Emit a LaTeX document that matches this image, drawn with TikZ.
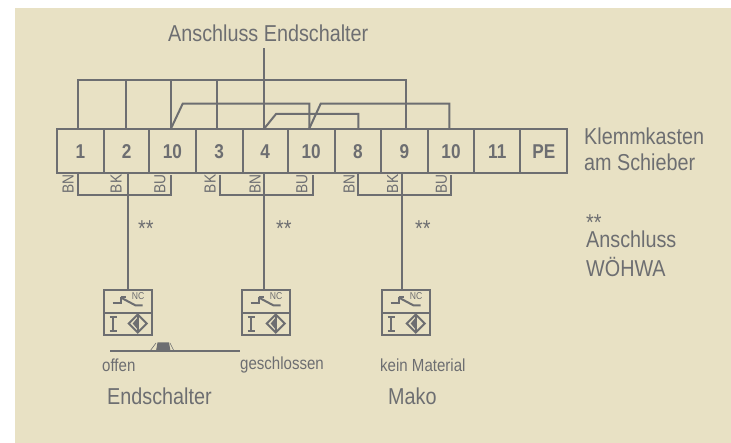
\documentclass[tikz,border=0pt]{standalone}
\usepackage{fontspec}
\setmainfont[FakeStretch=0.86]{Liberation Sans}
\definecolor{bgc}{HTML}{E8E1C4}
\definecolor{ink}{HTML}{6D6E71}
\tikzset{
  wire/.style={draw=ink,line width=2pt,line join=miter},
  term/.style={draw=ink,line width=2pt,anchor=north west,inner sep=0pt,minimum height=43.5pt,text=ink,font=\fontsize{20}{20}\selectfont\bfseries},
  lbl/.style={text=ink,inner sep=0pt,anchor=west,align=left},
  big/.style={lbl,font=\fontsize{23}{27}\selectfont},
  small/.style={lbl,font=\fontsize{17.5}{20}\selectfont},
  stars/.style={text=ink,inner sep=0pt,anchor=base west,font=\fontsize{23}{23}\selectfont},
  core/.style={text=ink,inner sep=0pt,rotate=90,font=\fontsize{16}{16}\selectfont},
  swbox/.style={draw=ink,line width=2pt,anchor=north west,minimum width=48.5pt,minimum height=22.5pt,inner sep=0pt},
  nctext/.style={text=ink,inner sep=0pt,font=\fontsize{10}{10}\selectfont},
}
\newcommand{\swsym}[2]{%
  \begin{scope}[shift={(#1,#2)}]
    \draw[ink,line width=2pt] (10,14) -- (18,14) -- (18,8);
    \draw[ink,line width=2pt] (18,8) -- (33,16) -- (40,16);
    \draw[ink,line width=2pt] (18,8) -- (23,8);
    \draw[ink,line width=2pt] (10.6,28) -- (10.6,42) (7,28) -- (14,28) (7,42) -- (14,42);
    \draw[ink,line width=2pt,line join=miter] (35,25) -- (44,34) -- (35,43) -- (26,34) -- cycle;
    \draw[ink,line width=2pt] (35,25) -- (35,43);
    \fill[ink] (35,28) -- (30,34) -- (35,40) -- cycle;
  \end{scope}}
\begin{document}
\begin{tikzpicture}[x=1pt,y=-1pt]
\useasboundingbox (0,0) rectangle (731,443);
\fill[bgc] (15,8) rectangle (731,443);

\node[big] (title) at (168,33.5) {Anschluss Endschalter};

\node[term,minimum width=47.3pt] (t1) at (55.7,128.5) {1};
\node[term,minimum width=45.3pt] (t2) at (103,128.5) {2};
\node[term,minimum width=46.4pt] (t3) at (148.3,128.5) {10};
\node[term,minimum width=47pt] (t4) at (194.7,128.5) {3};
\node[term,minimum width=45pt] (t5) at (241.7,128.5) {4};
\node[term,minimum width=47pt] (t6) at (286.7,128.5) {10};
\node[term,minimum width=46.3pt] (t7) at (333.7,128.5) {8};
\node[term,minimum width=46.7pt] (t8) at (380,128.5) {9};
\node[term,minimum width=46.6pt] (t9) at (426.7,128.5) {10};
\node[term,minimum width=46pt] (t10) at (473.3,128.5) {11};
\node[term,minimum width=47pt] (t11) at (519.3,128.5) {PE};

\coordinate (top) at (264.3,48);
\coordinate (bL) at (78.3,80);
\coordinate (bR) at (406,80);
\coordinate (x2) at (126,80);
\coordinate (x3) at (171,80);
\coordinate (x4) at (217,80);
\coordinate (x5) at (264.3,80);
\coordinate (x6) at (309.3,80);
\coordinate (x7) at (358.3,80);
\coordinate (x9) at (449.3,80);

\draw[wire] (t1.north -| bL) |- (bR) -- (t8.north -| bR);
\draw[wire] (t2.north -| x2) -- (x2);
\draw[wire] (t3.north -| x3) -- (x3);
\draw[wire] (t4.north -| x4) -- (x4);
\draw[wire] (t5.north -| x5) -- (top);
\coordinate (a1) at (182.7,103.7);
\coordinate (a2) at (320.7,103.7);
\coordinate (a3) at (276,114);
\draw[wire] (t3.north -| x3) -- (a1) -- (a1 -| x6) -- (t6.north -| x6);
\draw[wire] (t6.north -| x6) -- (a2) -- (a2 -| x9) -- (t9.north -| x9);
\draw[wire] (t5.north -| x5) -- (a3) -- (a3 -| x7) -- (t7.north -| x7);

\coordinate (s1) at (128,195.3);
\coordinate (s2) at (264.3,195.3);
\coordinate (s3) at (402.3,195.3);
\node[swbox] (w1t) at (102.7,289.5) {};
\node[swbox] (w1b) at (102.7,312) {};
\node[swbox] (w2t) at (240.7,289.5) {};
\node[swbox] (w2b) at (240.7,312) {};
\node[swbox] (w3t) at (380.7,289.5) {};
\node[swbox] (w3b) at (380.7,312) {};

\draw[wire] (77.7,172) |- (170.7,195.3) -- (170.7,175);
\draw[wire] (128,172) -- (s1) -- (128,289.5);
\draw[wire] (220,175) |- (313.3,195.3) -- (313.3,175);
\draw[wire] (t5.south -| s2) -- (s2) -- (264.3,289.5);
\draw[wire] (358.3,172) |- (451,195.3) -- (451,175);
\draw[wire] (402.3,172) -- (s3) -- (402.3,289.5);

\node[core,anchor=east] (c1) at (68,174.5) {BN};
\node[core,anchor=east] (c2) at (116,174.5) {BK};
\node[core,anchor=east] (c3) at (160,174.5) {BU};
\node[core,anchor=east] (c4) at (210,174.5) {BK};
\node[core,anchor=east] (c5) at (255,174.5) {BN};
\node[core,anchor=east] (c6) at (302,174.5) {BU};
\node[core,anchor=east] (c7) at (349,174.5) {BN};
\node[core,anchor=east] (c8) at (392.5,174.5) {BK};
\node[core,anchor=east] (c9) at (441.5,174.5) {BU};

\node[stars] (st1) at (138,236.5) {**};
\node[stars] (st2) at (276,236.5) {**};
\node[stars] (st3) at (415,236.5) {**};

\swsym{102.7}{289.5}
\swsym{240.7}{289.5}
\swsym{380.7}{289.5}
\node[nctext] (nc1) at (138,296) {NC};
\node[nctext] (nc2) at (276,296) {NC};
\node[nctext] (nc3) at (416,296) {NC};

\draw[ink,line width=2.5pt] (110,351) -- (239.5,351);
\fill[ink] (156,351) -- (157.5,342.5) -- (169,342.5) -- (170.5,351) -- cycle;
\draw[ink,line width=0.6pt] (150,351) -- (156,343) (170,343) -- (174,351);

\node[small] (o) at (102,365) {offen};
\node[small] (g) at (240,365) {geschlossen};
\node[small] (k) at (380,365) {kein Material};
\node[big] (e) at (107,396) {Endschalter};
\node[big] (m) at (388,396) {Mako};

\node[big] (kk) at (584,136.5) {Klemmkasten};
\node[big] (as) at (584,162.5) {am Schieber};
\node[stars] (st4) at (586,231) {\smash{**}};
\node[big] (an) at (586,239) {Anschluss};
\node[big] (wo) at (586,266.5) {WÖHWA};
\end{tikzpicture}
\end{document}
